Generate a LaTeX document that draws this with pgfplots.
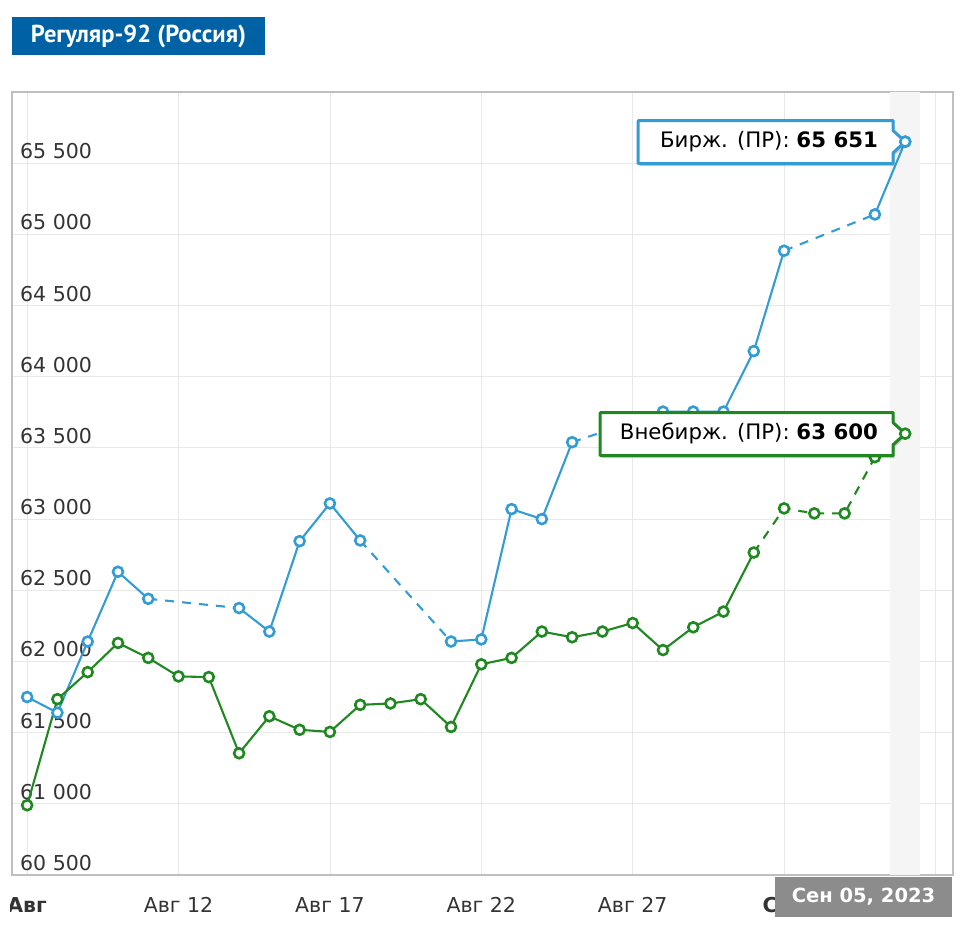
\documentclass[border=0pt]{standalone}
\usepackage{fontspec}
\setmainfont{DejaVu Sans}
\newfontfamily\titlefont{PT Sans}
\usepackage{pgfplots}
\pgfplotsset{compat=1.18}
\definecolor{bl}{RGB}{52,156,212}
\definecolor{gr}{RGB}{32,136,32}
\definecolor{ttl}{RGB}{0,98,164}
\definecolor{tk}{RGB}{51,51,51}

\pgfplotstableread{
d v
7 61750
8 61640
9 62140
10 62630
11 62440
14 62375
15 62210
16 62845
17 63110
18 62850
21 62140
22 62155
23 63070
24 63000
25 63540
28 63755
29 63755
30 63755
31 64180
32 64885
35 65140
36 65651
}\birzh

\pgfplotstableread{
d v
7 60990
8 61735
9 61925
10 62130
11 62025
12 61895
13 61890
14 61355
15 61615
16 61520
17 61505
18 61695
19 61705
20 61735
21 61540
22 61980
23 62025
24 62210
25 62170
26 62210
27 62270
28 62080
29 62240
30 62350
31 62765
}\vnebirzh

\begin{document}
\begin{tikzpicture}[x=1bp,y=1bp]
\useasboundingbox (0,0) rectangle (960,937);
% title
\fill[ttl] (12,882) rectangle (265,920);
\node[text=white, font=\titlefont\bfseries\fontsize{24.5bp}{28bp}\selectfont, inner sep=0] at (138.5,900.5) {Регуляр-92 (Россия)};
\begin{scope}
\clip (10,0) rectangle (960,937);
\begin{axis}[
  at={(12bp,62bp)}, anchor=south west,
  width=941bp, height=783bp, scale only axis,
  xmin=6.5, xmax=37.58, ymin=60500, ymax=66000,
  axis line style={draw=black!25, line width=1.2bp},
  major tick length=0pt,
  grid=major,
  major grid style={draw=black!9, line width=0.8bp},
  xtick={7,12,17,22,27,32,37},
  xticklabels={\textbf{Авг},Авг 12,Авг 17,Авг 22,Авг 27,\textbf{Сен},},
  ytick={60500,61000,...,65500},
  scaled y ticks=false,
  tick label style={font=\fontsize{20.5bp}{24bp}\selectfont, text=tk},
  xticklabel style={anchor=base, inner sep=0pt, yshift=-38bp},
  yticklabel style={anchor=south west, inner sep=0pt, xshift=8bp, yshift=4bp,
    /pgf/number format/fixed, /pgf/number format/1000 sep={\ }, /pgf/number format/assume math mode=true},
]
\addplot[draw=none, fill=black!4] coordinates {(35.5,60500) (36.5,60500) (36.5,66000) (35.5,66000)} -- cycle;
% blue: solid segments on trading days, dashed over weekends
\addplot[bl, line width=2.1bp] coordinates {(7,61750) (8,61640) (9,62140) (10,62630) (11,62440)};
\addplot[bl, line width=2.1bp, dash pattern=on 9bp off 8bp] coordinates {(11,62440) (14,62375)};
\addplot[bl, line width=2.1bp] coordinates {(14,62375) (15,62210) (16,62845) (17,63110) (18,62850)};
\addplot[bl, line width=2.1bp, dash pattern=on 9bp off 8bp] coordinates {(18,62850) (21,62140)};
\addplot[bl, line width=2.1bp] coordinates {(21,62140) (22,62155) (23,63070) (24,63000) (25,63540)};
\addplot[bl, line width=2.1bp, dash pattern=on 9bp off 8bp] coordinates {(25,63540) (28,63755)};
\addplot[bl, line width=2.1bp] coordinates {(28,63755) (29,63755) (30,63755) (31,64180) (32,64885)};
\addplot[bl, line width=2.1bp, dash pattern=on 9bp off 8bp] coordinates {(32,64885) (35,65140)};
\addplot[bl, line width=2.1bp] coordinates {(35,65140) (36,65651)};
\addplot[only marks, mark=*, mark size=5bp, mark options={draw=bl, fill=white, line width=2.6bp}] table[x=d,y=v] {\birzh};
% green
\addplot[gr, line width=2.1bp] table[x=d,y=v] {\vnebirzh};
\addplot[gr, line width=2.1bp, dash pattern=on 9bp off 8bp] coordinates {(31,62765) (32,63075) (33,63040) (34,63040) (35,63435) (36,63600)};
\addplot[only marks, mark=*, mark size=5bp, mark options={draw=gr, fill=white, line width=2.6bp}] table[x=d,y=v] {\vnebirzh};
\addplot[only marks, mark=*, mark size=5bp, mark options={draw=gr, fill=white, line width=2.6bp}] coordinates {(32,63075) (33,63040) (34,63040) (35,63435)};
\coordinate (tipB) at (axis cs:36,65651);
\coordinate (tipG) at (axis cs:36,63600);
\end{axis}
\end{scope}
% tooltips
\fill[black, opacity=0.18] ([shift={(1.5,-2.5)}]tipB) -- ++(-12,11) -- ++(0,10) -- ++(-255,0) -- ++(0,-43) -- ++(255,0) -- ++(0,11) -- cycle;
\filldraw[draw=bl, fill=white, line width=3bp, line join=round]
  (tipB) -- ++(-12,11) -- ++(0,10) -- ++(-255,0) -- ++(0,-43) -- ++(255,0) -- ++(0,11) -- cycle;
\node[anchor=east, inner sep=0pt, font=\fontsize{21.3bp}{25bp}\selectfont] at ([xshift=-27bp]tipB) {Бирж. (ПР): \textbf{65 651}};
\fill[black, opacity=0.18] ([shift={(1.5,-2.5)}]tipG) -- ++(-12,11) -- ++(0,10) -- ++(-293,0) -- ++(0,-43) -- ++(293,0) -- ++(0,11) -- cycle;
\filldraw[draw=gr, fill=white, line width=3bp, line join=round]
  (tipG) -- ++(-12,11) -- ++(0,10) -- ++(-293,0) -- ++(0,-43) -- ++(293,0) -- ++(0,11) -- cycle;
\node[anchor=east, inner sep=0pt, font=\fontsize{21.3bp}{25bp}\selectfont] at ([xshift=-27bp]tipG) {Внебирж. (ПР): \textbf{63 600}};
\filldraw[draw=bl, fill=white, line width=2.6bp] (tipB) circle (5bp);
\filldraw[draw=gr, fill=white, line width=2.6bp] (tipG) circle (5bp);
% date tooltip
\fill[black!45] (775,20) rectangle (952,60);
\node[text=white, font=\bfseries\fontsize{19.5bp}{23bp}\selectfont, inner sep=0] at (863.5,40) {Сен 05, 2023};
\end{tikzpicture}
\end{document}
